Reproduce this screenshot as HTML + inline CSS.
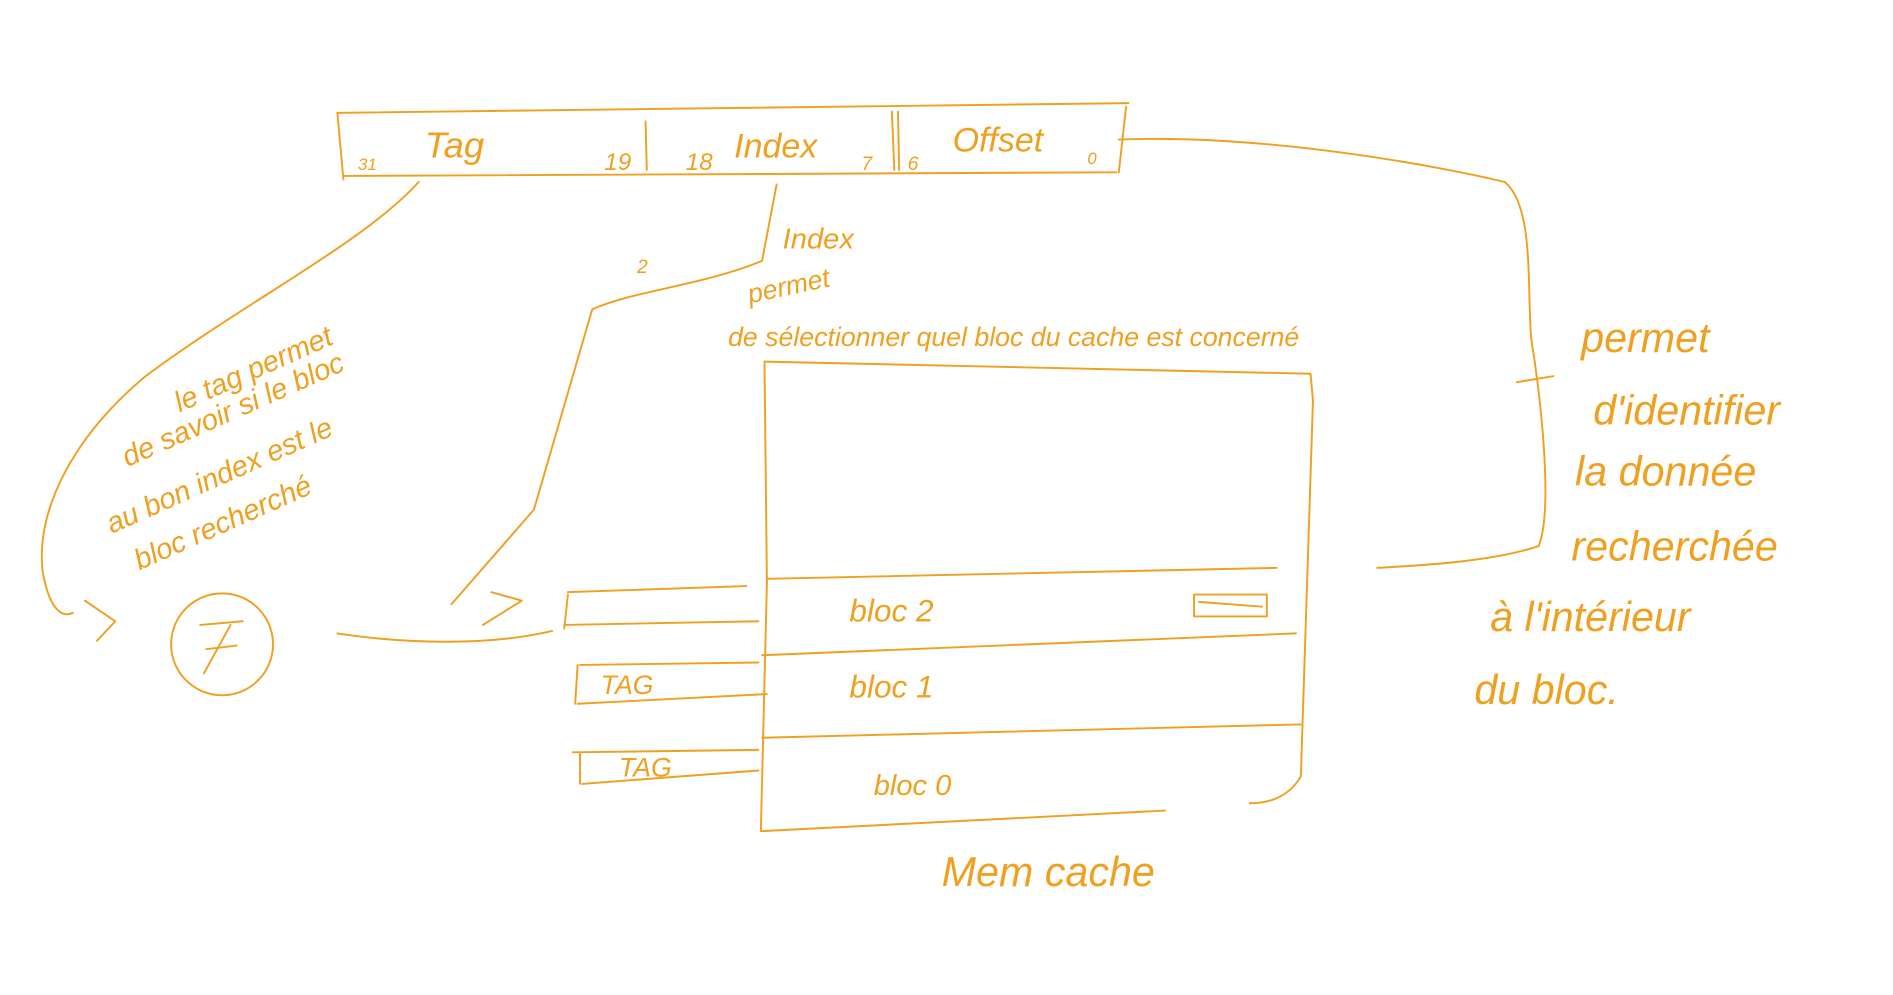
<!DOCTYPE html>
<html><head><meta charset="utf-8"><style>
html,body{margin:0;padding:0;background:#fff;width:1893px;height:995px;overflow:hidden}
svg{display:block}
text{font-family:"Liberation Sans",sans-serif;fill:#f0a020;font-style:italic}
</style></head><body>
<svg width="1893" height="995" viewBox="0 0 1560 820" preserveAspectRatio="none">
<g fill="none" stroke="#f0a020" stroke-width="1.6" stroke-linecap="round" stroke-linejoin="round">
<path d="M278 93 L930 85"/>
<path d="M278 93 L283 148"/>
<path d="M283 145 L920 142"/>
<path d="M928 88 L922 142"/>
<path d="M532 100 L533 140"/><path d="M735 92 L737 140"/><path d="M740 92 L741 140"/>
<path d="M345 150 C300 200 200 250 120 310 C60 360 30 420 35 470 C40 500 50 510 60 505"/>
<path d="M70 495 L95 512 L80 528"/>
<circle cx="183" cy="531" r="42"/>
<path d="M165 515 L200 512 M190 515 L168 555 M170 535 L195 532"/>
<path d="M278 522 C330 530 400 533 455 520"/>
<path d="M640 152 L628 215 C580 235 520 240 488 255 L440 420 L372 498"/>
<path d="M405 488 L430 495 L398 515"/>
<path d="M922 115 C1050 110 1200 140 1240 150 C1265 170 1258 240 1262 280 C1270 330 1280 420 1268 450 C1230 463 1170 466 1135 468"/>
<path d="M1250 315 L1280 310"/>
<path d="M630 298 L1080 308 L1082 330 L1072 640 C1060 660 1040 662 1030 662"/>
<path d="M630 298 L632 480 L627 685 L960 668"/>
<path d="M632 477 L1052 468"/>
<path d="M628 540 L1068 522"/>
<path d="M628 608 L1072 597"/>
<path d="M468 488 L615 483 M465 515 L625 512 M468 490 L465 518"/>
<path d="M478 548 L625 546 M476 580 L632 572 M476 548 L474 580"/>
<path d="M472 620 L625 618 M480 646 L625 635 M478 620 L478 646"/>
<rect x="984" y="490" width="60" height="18"/>
<path d="M988 496 L1040 500"/>
</g>
<text x="295" y="140" font-size="14">31</text>
<text x="350" y="130" font-size="30">Tag</text>
<text x="498" y="140" font-size="20">19</text>
<text x="565" y="140" font-size="20">18</text>
<text x="605" y="130" font-size="28">Index</text>
<text x="710" y="140" font-size="16">7</text>
<text x="748" y="140" font-size="16">6</text>
<text x="785" y="125" font-size="28">Offset</text>
<text x="896" y="135" font-size="14">0</text>
<text x="645" y="205" font-size="24">Index</text>
<text x="618" y="250" font-size="22" transform="rotate(-12 618 250)">permet</text>
<text x="600" y="285" font-size="22">de sélectionner quel bloc du cache est concerné</text>
<text x="525" y="225" font-size="16">2</text>
<g font-size="24">
<text x="148" y="340" transform="rotate(-24 148 340)">le tag permet</text>
<text x="105" y="385" transform="rotate(-24 105 385)">de savoir si le bloc</text>
<text x="92" y="440" transform="rotate(-24 92 440)">au bon index est le</text>
<text x="115" y="470" transform="rotate(-24 115 470)">bloc recherché</text>
</g>
<g font-size="34">
<text x="1303" y="290">permet</text>
<text x="1313" y="350">d'identifier</text>
<text x="1298" y="400">la donnée</text>
<text x="1295" y="462">recherchée</text>
<text x="1228" y="520">à l'intérieur</text>
<text x="1215" y="580">du bloc.</text>
</g>
<text x="700" y="512" font-size="26">bloc 2</text>
<text x="700" y="575" font-size="26">bloc 1</text>
<text x="720" y="655" font-size="24">bloc 0</text>
<text x="495" y="572" font-size="22">TAG</text>
<text x="510" y="640" font-size="22">TAG</text>
<text x="776" y="730" font-size="34">Mem cache</text>
</svg>
</body></html>
